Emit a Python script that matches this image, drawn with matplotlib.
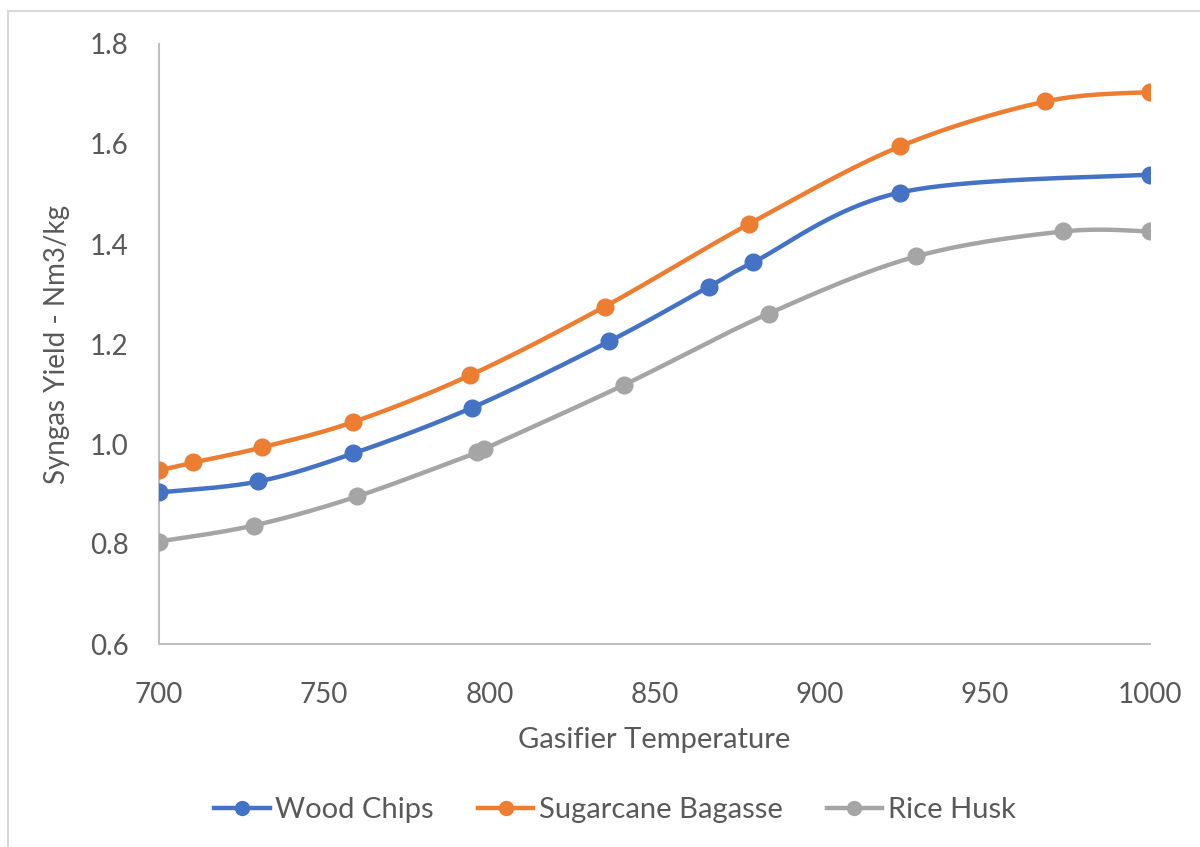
import numpy as np
import matplotlib
matplotlib.use("Agg")
import matplotlib.pyplot as plt
from matplotlib.patches import Rectangle

# Gasifier temperature (x) and syngas yield (Nm3/kg) for each feedstock
wood_temp = [700, 730, 758.7, 794.9, 836.2, 866.6, 879.8, 924.3, 1000]
wood_yield = [0.903, 0.925, 0.981, 1.073, 1.205, 1.315, 1.363, 1.503, 1.539]

bagasse_temp = [700, 710.4, 731.1, 758.8, 794.0, 835.0, 878.6, 924.3, 968.3, 1000]
bagasse_yield = [0.947, 0.963, 0.993, 1.044, 1.137, 1.275, 1.440, 1.595, 1.685, 1.704]

husk_temp = [700, 728.7, 759.9, 796.2, 798.4, 840.7, 884.6, 929.1, 973.7, 1000]
husk_yield = [0.805, 0.837, 0.895, 0.983, 0.990, 1.118, 1.261, 1.375, 1.425, 1.425]

series_names = ["Wood Chips", "Sugarcane Bagasse", "Rice Husk"]
colors = ["#4472C4", "#ED7D31", "#A5A5A5"]

x_ticks = [700, 750, 800, 850, 900, 950, 1000]
y_ticks = [0.6, 0.8, 1.0, 1.2, 1.4, 1.6, 1.8]

plt.rcParams["font.family"] = ["Lato", "DejaVu Sans"]
TEXT = "#595959"
AXIS = "#BFBFBF"


def smooth(xs, ys, n=40):
    """Catmull-Rom style Bezier smoothing through every point."""
    p = np.column_stack([xs, ys]).astype(float)
    ext = np.vstack([p[0], p, p[-1]])
    out = [p[0]]
    t = np.linspace(0, 1, n)[1:, None]
    for i in range(len(p) - 1):
        p0, p1, p2, p3 = ext[i], ext[i + 1], ext[i + 2], ext[i + 3]
        c1 = p1 + (p2 - p0) / 6.0
        c2 = p2 - (p3 - p1) / 6.0
        seg = ((1 - t) ** 3) * p1 + 3 * ((1 - t) ** 2) * t * c1 + 3 * (1 - t) * t ** 2 * c2 + t ** 3 * p2
        out.extend(seg)
    out = np.array(out)
    return out[:, 0], out[:, 1]


fig = plt.figure(figsize=(12, 8.47), dpi=100)
fig.patches.append(Rectangle((8 / 1200, -0.1), 1.2, 1 - 11 / 847 + 0.1,
                             transform=fig.transFigure, fill=False,
                             edgecolor="#D9D9D9", linewidth=1.5))

ax = fig.add_axes([159 / 1200, 1 - 644 / 847, (1150 - 159) / 1200, 600 / 847])

data = [(wood_temp, wood_yield), (bagasse_temp, bagasse_yield), (husk_temp, husk_yield)]
for (xs, ys), name, c in zip(data, series_names, colors):
    sx, sy = smooth(xs, ys)
    ax.plot(sx, sy, color=c, lw=3.2, solid_capstyle="round", zorder=2)
    ax.plot(xs, ys, "o", color=c, ms=12, zorder=3)
    ax.plot([], [], color=c, lw=3.2, marker="o", ms=10, label=name)

ax.set_xlim(700, 1000)
ax.set_ylim(0.6, 1.8)
ax.set_xticks(x_ticks)
ax.set_yticks(y_ticks)
ax.set_yticklabels([f"{v:.1f}" for v in y_ticks])
ax.tick_params(length=0, labelsize=20, colors=TEXT)
ax.tick_params(axis="x", pad=27)
ax.tick_params(axis="y", pad=22)
for s in ["top", "right"]:
    ax.spines[s].set_visible(False)
for s in ["left", "bottom"]:
    ax.spines[s].set_color(AXIS)
    ax.spines[s].set_linewidth(1.5)

ax.set_xlabel("Gasifier Temperature", fontsize=21, color=TEXT, labelpad=14)
ax.set_ylabel("Syngas Yield - Nm3/kg", fontsize=20, color=TEXT, labelpad=14)

fig.legend(loc="center", bbox_to_anchor=(615 / 1200, 1 - 810 / 847), ncol=3,
           frameon=False, fontsize=21, labelcolor=TEXT, handlelength=1.9,
           handletextpad=0.2, columnspacing=1.5)

fig.savefig("out.png", dpi=100, facecolor="white")
